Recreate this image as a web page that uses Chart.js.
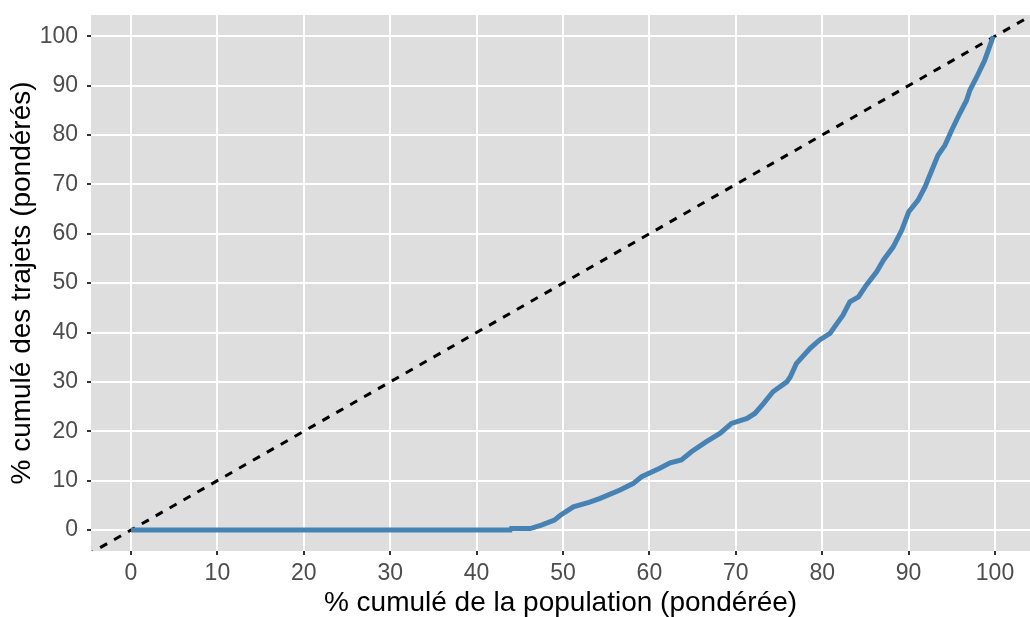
<!DOCTYPE html>
<html>
<head>
<meta charset="utf-8">
<script src="https://cdn.jsdelivr.net/npm/chart.js@4/dist/chart.umd.min.js"></script>
<style>
  html, body { margin: 0; padding: 0; background: #fff; }
  canvas { display: block; }
</style>
</head>
<body>
<canvas id="lorenz" width="1030" height="617"></canvas>
<script>
// % cumulé de la population (pondérée)
const popCum = [0, 43.9, 44.0, 46.2, 47.5, 49.0, 49.7, 51.2, 53.0, 54.3, 56.6, 58.1, 59.1, 61.2,
  62.4, 63.7, 64.9, 66.6, 68.2, 69.5, 71.3, 72.2, 73.2, 74.3, 75.9, 76.3, 77.0, 78.6, 79.7,
  80.9, 81.7, 82.4, 83.2, 84.2, 85.1, 86.3, 87.1, 88.2, 89.2, 90.0, 91.1, 91.9, 92.7, 93.4,
  94.2, 95.0, 95.9, 96.7, 97.1, 97.9, 98.8, 99.8];
// % cumulé des trajets (pondérés)
const trajCum = [0, 0, 0.3, 0.3, 1.0, 2.0, 3.0, 4.7, 5.6, 6.4, 8.1, 9.4, 10.8, 12.5,
  13.6, 14.2, 15.9, 17.9, 19.6, 21.6, 22.6, 23.6, 25.6, 28.0, 30.0, 31.0, 33.7, 36.8, 38.5,
  39.8, 41.8, 43.5, 46.2, 47.2, 49.6, 52.3, 54.7, 57.3, 60.7, 64.4, 66.8, 69.5, 72.9, 75.9,
  77.9, 81.0, 84.3, 87.0, 89.1, 91.8, 95.1, 100];
// égalité parfaite
const equalityLine = [-10, 110];

const xTicks = [0, 10, 20, 30, 40, 50, 60, 70, 80, 90, 100];
const yTicks = [0, 10, 20, 30, 40, 50, 60, 70, 80, 90, 100];

const panelBg = {
  id: 'panelBg',
  beforeDraw(chart) {
    const { ctx, chartArea: a } = chart;
    ctx.save();
    ctx.fillStyle = '#DEDEDE';
    ctx.fillRect(a.left, a.top, a.right - a.left, a.bottom - a.top);
    ctx.restore();
  }
};

const tickFont = { family: 'Liberation Sans, Arial, sans-serif', size: 23 };
const titleFont = { family: 'Liberation Sans, Arial, sans-serif', size: 28, lineHeight: 1 };

new Chart(document.getElementById('lorenz'), {
  type: 'line',
  data: {
    datasets: [
      {
        label: 'Lorenz',
        data: popCum.map((x, i) => ({ x: x, y: trajCum[i] })),
        borderColor: '#4682B4',
        borderWidth: 5,
        pointRadius: 0,
        tension: 0
      },
      {
        label: 'Égalité',
        data: equalityLine.map(v => ({ x: v, y: v })),
        borderColor: '#000000',
        borderWidth: 3,
        borderDash: [8, 8],
        pointRadius: 0
      }
    ]
  },
  options: {
    responsive: false,
    devicePixelRatio: 1,
    animation: false,
    layout: { padding: { top: 15, right: 0, left: 0, bottom: 0 } },
    plugins: { legend: { display: false }, tooltip: { enabled: false } },
    scales: {
      x: {
        type: 'linear',
        min: -4.63,
        max: 104.05,
        afterBuildTicks: s => { s.ticks = xTicks.map(v => ({ value: v })); },
        afterFit: s => { s.height = 66; s.paddingLeft = 0; s.paddingRight = 0; },
        border: { display: false },
        grid: { color: '#FFFFFF', lineWidth: 2, tickColor: '#333333', tickLength: 4 },
        ticks: { color: '#4D4D4D', font: tickFont, padding: 5, maxRotation: 0 },
        title: {
          display: true,
          text: '% cumulé de la population (pondérée)',
          color: '#000000',
          font: titleFont,
          padding: { top: 0, bottom: 0 }
        }
      },
      y: {
        type: 'linear',
        min: -4.25,
        max: 104.3,
        afterBuildTicks: s => { s.ticks = yTicks.map(v => ({ value: v })); },
        afterFit: s => { s.width = 91; s.paddingTop = 0; s.paddingBottom = 0; },
        border: { display: false },
        grid: { color: '#FFFFFF', lineWidth: 2, tickColor: '#333333', tickLength: 4 },
        ticks: { color: '#4D4D4D', font: tickFont, padding: 9 },
        title: {
          display: true,
          text: '% cumulé des trajets (pondérés)',
          color: '#000000',
          font: titleFont,
          padding: { top: 8, bottom: 0 }
        }
      }
    }
  },
  plugins: [panelBg]
});
</script>
</body>
</html>
